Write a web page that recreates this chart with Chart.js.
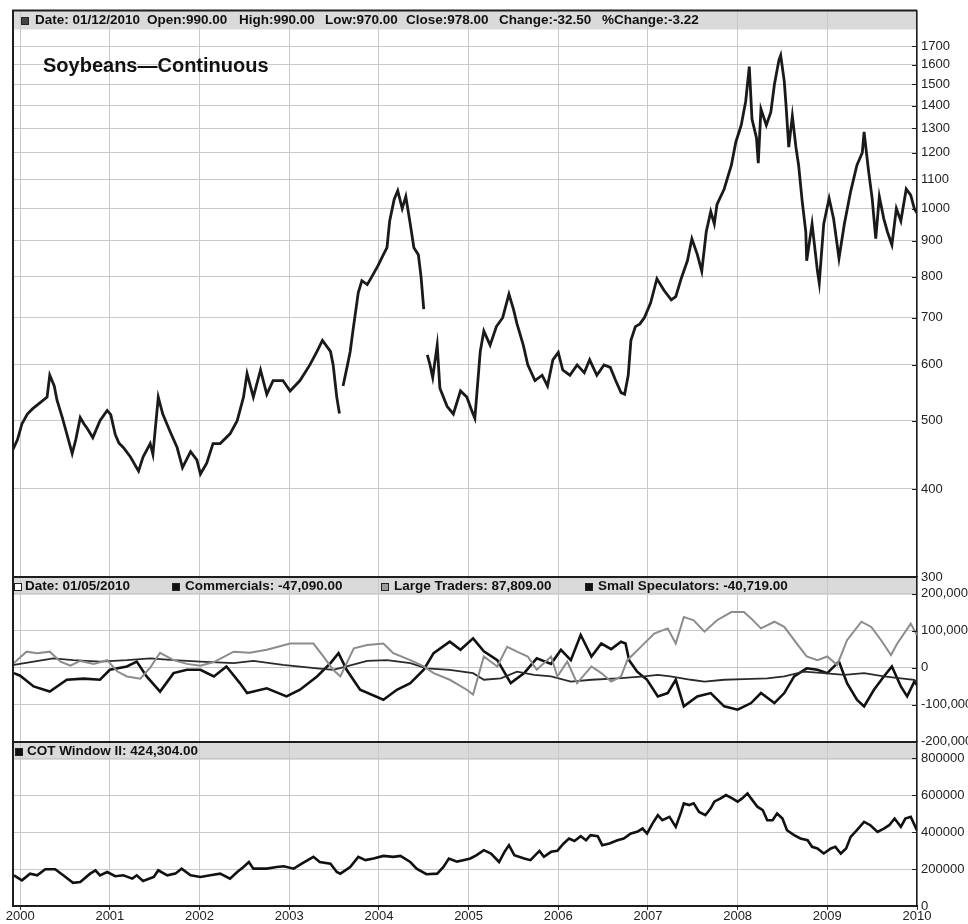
<!DOCTYPE html>
<html>
<head>
<meta charset="utf-8">
<title>Soybeans - Continuous</title>
<script src="https://cdn.jsdelivr.net/npm/chart.js@4.4.1/dist/chart.umd.min.js"></script>
<style>
    body { margin: 0; background: #fff; font-family: Arial, "Liberation Sans", sans-serif; }
    #wrap { position: relative; width: 968px; height: 924px; overflow: hidden; }
    #wrap canvas { position: absolute; left: 0; }
</style>
</head>
<body>
<div id="wrap">
    <canvas id="priceChart" width="968" height="595" style="top:0px"></canvas>
    <canvas id="cotChart" width="968" height="187" style="top:565px"></canvas>
    <canvas id="windowChart" width="968" height="194" style="top:730px"></canvas>
</div>
<script>
// ---- data ----
const years = [2000, 2001, 2002, 2003, 2004, 2005, 2006, 2007, 2008, 2009, 2010];
const priceTicks = [300, 400, 500, 600, 700, 800, 900, 1000, 1100, 1200, 1300, 1400, 1500, 1600, 1700];
const cotTicks = [-200000, -100000, 0, 100000, 200000];
const windowTicks = [0, 200000, 400000, 600000, 800000];

const priceDates = [
    1999.92, 1999.97, 2000.02, 2000.08, 2000.14, 2000.22, 2000.30, 2000.33, 2000.38, 2000.41,
    2000.47, 2000.52, 2000.58, 2000.62, 2000.67, 2000.71, 2000.75, 2000.81, 2000.89, 2000.97,
    2001.01, 2001.06, 2001.10, 2001.15, 2001.23, 2001.32, 2001.37, 2001.45, 2001.48, 2001.54,
    2001.59, 2001.67, 2001.75, 2001.81, 2001.90, 2001.97, 2002.01, 2002.08, 2002.15, 2002.23,
    2002.34, 2002.42, 2002.49, 2002.53, 2002.60, 2002.68, 2002.75, 2002.82, 2002.93, 2003.01,
    2003.12, 2003.23, 2003.31, 2003.37, 2003.46, 2003.49, 2003.53, 2003.56, 2003.58, 2003.60,
    2003.65, 2003.68, 2003.71, 2003.77, 2003.81, 2003.87, 2003.92, 2003.99, 2004.05, 2004.09,
    2004.12, 2004.17, 2004.21, 2004.26, 2004.30, 2004.35, 2004.39, 2004.44, 2004.47, 2004.50,
    2004.52, 2004.54, 2004.57, 2004.60, 2004.65, 2004.68, 2004.76, 2004.83, 2004.91, 2004.98,
    2005.04, 2005.07, 2005.13, 2005.17, 2005.24, 2005.31, 2005.38, 2005.45, 2005.50, 2005.54,
    2005.61, 2005.66, 2005.74, 2005.82, 2005.88, 2005.94, 2006.00, 2006.05, 2006.13, 2006.21,
    2006.29, 2006.35, 2006.43, 2006.51, 2006.58, 2006.64, 2006.70, 2006.74, 2006.78, 2006.81,
    2006.86, 2006.91, 2006.96, 2007.03, 2007.10, 2007.18, 2007.26, 2007.31, 2007.37, 2007.44,
    2007.49, 2007.55, 2007.60, 2007.65, 2007.70, 2007.74, 2007.77, 2007.85, 2007.93, 2007.98,
    2008.04, 2008.09, 2008.13, 2008.16, 2008.21, 2008.23, 2008.26, 2008.32, 2008.37, 2008.41,
    2008.46, 2008.48, 2008.52, 2008.54, 2008.57, 2008.61, 2008.65, 2008.68, 2008.72, 2008.76,
    2008.77, 2008.83, 2008.89, 2008.91, 2008.96, 2009.02, 2009.07, 2009.13, 2009.19, 2009.26,
    2009.33, 2009.39, 2009.41, 2009.46, 2009.50, 2009.54, 2009.58, 2009.63, 2009.67, 2009.72,
    2009.77, 2009.82, 2009.88, 2009.93, 2009.97, 2010.00
];
const priceValues = [
    455, 470, 495, 511, 520, 530, 540, 580, 560, 535,
    505, 479, 449, 470, 505, 495, 487, 473, 500, 517,
    510, 478, 465, 458, 444, 424, 444, 464, 448, 540,
    511, 483, 458, 429, 452, 440, 420, 435, 464, 464,
    479, 500, 540, 583, 540, 590, 545, 570, 570, 551,
    570, 600, 627, 650, 627, 600, 540, 512, null, 560,
    600, 627, 670, 760, 790, 780, 800, 830, 860, 880,
    960, 1030, 1060, 1000, 1040, 950, 880, 860, 800, 720,
    null, 620, 600, 576, 640, 556, 524, 511, 551, 540,
    515, 504, 627, 670, 640, 680, 700, 756, 720, 686,
    640, 600, 570, 580, 560, 610, 625, 590, 580, 600,
    585, 610, 580, 600, 595, 570, 548, 545, 580, 650,
    680, 686, 700, 735, 795, 765, 742, 750, 795, 843,
    906, 861, 815, 927, 990, 951, 1014, 1066, 1152, 1243,
    1313, 1420, 1590, 1340, 1260, 1160, 1384, 1313, 1370, 1500,
    1623, 1650, 1515, 1400, 1222, 1353, 1222, 1152, 1024, 927,
    843, 951, 815, 784, 951, 1034, 967, 850, 951, 1057,
    1152, 1200, 1285, 1130, 1034, 906, 1040, 967, 927, 888,
    1000, 960, 1066, 1045, 1000, 985
];

const largeDates = [
    1999.93, 2000.07, 2000.19, 2000.33, 2000.45, 2000.56, 2000.67, 2000.82, 2000.97, 2001.08,
    2001.19, 2001.34, 2001.45, 2001.56, 2001.71, 2001.86, 2002.01, 2002.16, 2002.38, 2002.56,
    2002.75, 2003.01, 2003.27, 2003.38, 2003.49, 2003.57, 2003.72, 2003.87, 2004.05, 2004.16,
    2004.35, 2004.50, 2004.61, 2004.79, 2004.98, 2005.05, 2005.17, 2005.32, 2005.43, 2005.54,
    2005.66, 2005.76, 2005.92, 2005.99, 2006.10, 2006.21, 2006.37, 2006.48, 2006.59, 2006.70,
    2006.77, 2006.92, 2007.07, 2007.22, 2007.31, 2007.40, 2007.51, 2007.63, 2007.77, 2007.93,
    2008.07, 2008.15, 2008.26, 2008.41, 2008.52, 2008.66, 2008.77, 2008.89, 2009.00, 2009.11,
    2009.22, 2009.38, 2009.49, 2009.60, 2009.71, 2009.78, 2009.93, 2010.00
];
const largeValues = [
    12000, 43000, 39000, 43000, 16000, 5000, 18000, 10000, 20000, -10000,
    -24000, -30000, 0, 40000, 20000, 10000, 5000, 15000, 43000, 40000,
    48000, 65000, 65000, 30000, -6000, -24000, 52000, 61000, 65000, 39000,
    20000, 3000, -15000, -33000, -60000, -73000, 30000, 3000, 56000, 43000,
    30000, -6000, 30000, -24000, 16000, -42000, 3000, -15000, -38000, -24000,
    20000, 56000, 92000, 106000, 65000, 137000, 128000, 97000, 128000, 150000,
    150000, 133000, 106000, 124000, 110000, 65000, 30000, 20000, 30000, 7000,
    74000, 124000, 110000, 74000, 34000, 65000, 119000, 87809
];

const commDates = [
    1999.93, 2000.00, 2000.15, 2000.33, 2000.52, 2000.71, 2000.89, 2001.00, 2001.19, 2001.30,
    2001.41, 2001.56, 2001.71, 2001.86, 2002.01, 2002.16, 2002.30, 2002.45, 2002.53, 2002.75,
    2002.97, 2003.12, 2003.31, 2003.46, 2003.55, 2003.64, 2003.79, 2004.05, 2004.20, 2004.35,
    2004.50, 2004.61, 2004.79, 2004.91, 2005.05, 2005.17, 2005.32, 2005.47, 2005.62, 2005.76,
    2005.92, 2006.03, 2006.14, 2006.25, 2006.37, 2006.48, 2006.59, 2006.70, 2006.75, 2006.79,
    2006.88, 2006.99, 2007.11, 2007.22, 2007.31, 2007.40, 2007.55, 2007.70, 2007.85, 2008.00,
    2008.15, 2008.26, 2008.41, 2008.52, 2008.63, 2008.77, 2008.89, 2009.00, 2009.13, 2009.22,
    2009.33, 2009.41, 2009.52, 2009.63, 2009.72, 2009.82, 2009.89, 2009.97, 2010.00
];
const commValues = [
    -15000, -22000, -51000, -65000, -33000, -30000, -33000, -6000, 3000, 16000,
    -24000, -65000, -15000, -6000, -6000, -24000, 3000, -42000, -69000, -56000,
    -78000, -60000, -24000, 12000, 39000, -6000, -60000, -87000, -60000, -42000,
    -6000, 39000, 70000, 48000, 79000, 44000, 20000, -42000, -15000, 25000,
    10000, 48000, 20000, 88000, 30000, 65000, 50000, 70000, 65000, 20000,
    -11000, -33000, -78000, -69000, -33000, -105000, -78000, -69000, -105000, -114000,
    -96000, -69000, -96000, -69000, -24000, -2000, -6000, -15000, 16000, -42000,
    -87000, -105000, -60000, -24000, 3000, -51000, -78000, -38000, -47090
];

const smallDates = [
    1999.93, 2000.15, 2000.37, 2000.59, 2000.89, 2001.19, 2001.45, 2001.71, 2002.01, 2002.38,
    2002.60, 2002.93, 2003.31, 2003.49, 2003.64, 2003.87, 2004.09, 2004.35, 2004.53, 2004.79,
    2005.05, 2005.17, 2005.36, 2005.54, 2005.73, 2005.92, 2006.14, 2006.37, 2006.66, 2006.96,
    2007.11, 2007.25, 2007.48, 2007.63, 2007.85, 2008.07, 2008.33, 2008.52, 2008.74, 2008.96,
    2009.19, 2009.41, 2009.63, 2009.82, 2009.97, 2010.00
];
const smallValues = [
    7000, 16000, 25000, 20000, 16000, 20000, 25000, 20000, 16000, 12000,
    18000, 7000, -2000, -6000, 3000, 18000, 20000, 12000, -2000, -6000,
    -15000, -33000, -29000, -11000, -20000, -24000, -38000, -33000, -29000, -24000,
    -20000, -24000, -33000, -38000, -33000, -31000, -29000, -24000, -11000, -15000,
    -20000, -15000, -24000, -29000, -33000, -40719
];

const windowDates = [
    1999.93, 2000.02, 2000.11, 2000.19, 2000.28, 2000.39, 2000.48, 2000.59, 2000.67, 2000.78,
    2000.84, 2000.89, 2000.97, 2001.06, 2001.15, 2001.25, 2001.30, 2001.37, 2001.49, 2001.54,
    2001.64, 2001.73, 2001.80, 2001.90, 2002.01, 2002.12, 2002.23, 2002.34, 2002.42, 2002.49,
    2002.55, 2002.60, 2002.75, 2002.86, 2002.94, 2003.05, 2003.14, 2003.27, 2003.34, 2003.46,
    2003.53, 2003.57, 2003.68, 2003.77, 2003.85, 2003.94, 2004.05, 2004.16, 2004.24, 2004.35,
    2004.42, 2004.53, 2004.65, 2004.72, 2004.78, 2004.87, 2004.94, 2005.02, 2005.09, 2005.17,
    2005.25, 2005.34, 2005.40, 2005.45, 2005.51, 2005.62, 2005.69, 2005.79, 2005.84, 2005.92,
    2005.99, 2006.06, 2006.12, 2006.18, 2006.25, 2006.31, 2006.36, 2006.44, 2006.49, 2006.57,
    2006.66, 2006.73, 2006.81, 2006.88, 2006.94, 2006.99, 2007.05, 2007.11, 2007.16, 2007.24,
    2007.31, 2007.37, 2007.40, 2007.46, 2007.51, 2007.57, 2007.64, 2007.70, 2007.74, 2007.81,
    2007.87, 2007.94, 2008.00, 2008.05, 2008.11, 2008.15, 2008.22, 2008.28, 2008.33, 2008.39,
    2008.44, 2008.50, 2008.55, 2008.63, 2008.70, 2008.78, 2008.83, 2008.89, 2008.96, 2009.04,
    2009.09, 2009.15, 2009.21, 2009.26, 2009.33, 2009.41, 2009.48, 2009.56, 2009.63, 2009.69,
    2009.75, 2009.82, 2009.87, 2009.93, 2009.99, 2010.00
];
const windowValues = [
    166000, 139000, 175000, 166000, 199000, 199000, 166000, 125000, 130000, 175000,
    193000, 166000, 184000, 161000, 166000, 148000, 166000, 135000, 157000, 193000,
    166000, 175000, 202000, 166000, 157000, 166000, 175000, 148000, 184000, 211000,
    238000, 202000, 202000, 211000, 215000, 202000, 229000, 266000, 238000, 229000,
    184000, 175000, 211000, 266000, 248000, 257000, 271000, 266000, 271000, 238000,
    202000, 172000, 175000, 211000, 257000, 240000, 248000, 257000, 275000, 302000,
    284000, 238000, 293000, 329000, 275000, 257000, 248000, 298000, 266000, 293000,
    298000, 338000, 365000, 352000, 378000, 356000, 383000, 378000, 329000, 338000,
    356000, 365000, 392000, 401000, 419000, 392000, 446000, 491000, 464000, 482000,
    428000, 509000, 555000, 546000, 555000, 509000, 491000, 528000, 564000, 582000,
    600000, 582000, 564000, 582000, 609000, 582000, 537000, 519000, 464000, 464000,
    500000, 473000, 410000, 383000, 365000, 356000, 320000, 311000, 284000, 311000,
    320000, 284000, 311000, 374000, 410000, 455000, 437000, 401000, 419000, 437000,
    473000, 428000, 473000, 482000, 419000, 424304
];

// header texts and their x positions
const priceHeader = [
    { text: 'Date: 01/12/2010', x: 35, marker: 'dark', mx: 21 },
    { text: 'Open:990.00', x: 147 },
    { text: 'High:990.00', x: 239 },
    { text: 'Low:970.00', x: 325 },
    { text: 'Close:978.00', x: 406 },
    { text: 'Change:-32.50', x: 499 },
    { text: '%Change:-3.22', x: 602 }
];
const cotHeader = [
    { text: 'Date: 01/05/2010', x: 25, marker: 'open', mx: 14 },
    { text: 'Commercials: -47,090.00', x: 185, marker: 'black', mx: 172 },
    { text: 'Large Traders: 87,809.00', x: 394, marker: 'gray', mx: 381 },
    { text: 'Small Speculators: -40,719.00', x: 598, marker: 'black', mx: 585 }
];
const windowHeader = [
    { text: 'COT Window II: 424,304.00', x: 27, marker: 'black', mx: 15 }
];

const X_MIN = 1999.92;
const X_MAX = 2010.0;
const GRID = '#c9c9c9';
const INK = '#1e1e1e';
const FONT = 'Arial, "Liberation Sans", sans-serif';

function toPoints(dates, values) {
    return dates.map((d, i) => ({ x: d, y: values[i] }));
}

const panelDecor = {
    id: 'panelDecor',
    beforeDraw(chart, args, opts) {
        const { ctx, chartArea: a } = chart;
        ctx.save();
        ctx.fillStyle = '#dadada';
        ctx.fillRect(a.left, a.top, a.right - a.left, opts.band);
        ctx.restore();
    },
    afterDraw(chart, args, opts) {
        const { ctx, chartArea: a } = chart;
        ctx.save();
        // left and top frame
        ctx.strokeStyle = INK;
        ctx.lineWidth = 2;
        ctx.beginPath();
        ctx.moveTo(a.left, a.bottom);
        ctx.lineTo(a.left, a.top);
        ctx.lineTo(a.right, a.top);
        ctx.stroke();

        // short ticks pointing into the plot on the right axis
        const ys = chart.scales.y;
        ctx.lineWidth = 1;
        ctx.beginPath();
        ys.ticks.forEach(t => {
            const py = Math.round(ys.getPixelForValue(t.value)) + 0.5;
            ctx.moveTo(a.right - 5, py);
            ctx.lineTo(a.right, py);
        });
        ctx.stroke();

        // header row
        const cy = a.top + opts.band / 2 + 0.5;
        ctx.font = 'bold 13.5px ' + FONT;
        ctx.textBaseline = 'middle';
        ctx.fillStyle = '#111';
        opts.items.forEach(it => {
            if (it.marker) {
                const s = 8;
                const top = Math.round(cy - s / 2);
                if (it.marker === 'open') {
                    ctx.fillStyle = '#fff';
                } else if (it.marker === 'gray') {
                    ctx.fillStyle = '#9a9a9a';
                } else if (it.marker === 'dark') {
                    ctx.fillStyle = '#444';
                } else {
                    ctx.fillStyle = '#111';
                }
                ctx.fillRect(it.mx, top, s, s);
                ctx.strokeStyle = '#222';
                ctx.lineWidth = 1;
                ctx.strokeRect(it.mx + 0.5, top + 0.5, s - 1, s - 1);
                ctx.fillStyle = '#111';
            }
            ctx.fillText(it.text, it.x, cy);
        });

        if (opts.title) {
            ctx.font = 'bold 20px ' + FONT;
            ctx.fillStyle = '#111';
            ctx.fillText(opts.title, a.left + 30, a.top + 56);
        }
        ctx.restore();
    }
};

function makePanel(canvasId, cfg) {
    const ctx = document.getElementById(canvasId).getContext('2d');
    return new Chart(ctx, {
        type: 'line',
        data: { datasets: cfg.datasets },
        plugins: [panelDecor],
        options: {
            responsive: false,
            animation: false,
            events: [],
            layout: { padding: { top: cfg.padTop, left: 13, right: 0, bottom: 0 } },
            elements: { point: { radius: 0 }, line: { tension: 0, borderJoinStyle: 'miter' } },
            scales: {
                x: {
                    type: 'linear',
                    min: X_MIN,
                    max: X_MAX,
                    afterBuildTicks: s => { s.ticks = years.map(v => ({ value: v })); },
                    afterFit: s => { s.height = cfg.xHeight; },
                    grid: {
                        color: GRID,
                        lineWidth: 1,
                        drawTicks: cfg.xLabels,
                        tickLength: 4,
                        tickColor: '#333'
                    },
                    border: { display: true, color: INK, width: 2 },
                    ticks: {
                        display: cfg.xLabels,
                        autoSkip: false,
                        maxRotation: 0,
                        padding: 0,
                        color: '#222',
                        font: { family: FONT, size: 13, lineHeight: 1 },
                        callback: v => String(v)
                    }
                },
                y: {
                    type: cfg.yType,
                    position: 'right',
                    min: cfg.yMin,
                    max: cfg.yMax,
                    afterBuildTicks: s => { s.ticks = cfg.yTicks.map(v => ({ value: v })); },
                    afterFit: s => { s.width = 51; },
                    grid: { color: GRID, lineWidth: 1, drawTicks: false },
                    border: { display: true, color: INK, width: 1.5 },
                    ticks: {
                        autoSkip: false,
                        padding: 4,
                        color: '#222',
                        font: { family: FONT, size: 13, lineHeight: 1 },
                        callback: cfg.yFormat
                    }
                }
            },
            plugins: {
                legend: { display: false },
                tooltip: { enabled: false },
                panelDecor: { band: cfg.band, items: cfg.header, title: cfg.title || null }
            }
        }
    });
}

document.addEventListener('DOMContentLoaded', () => {
    makePanel('priceChart', {
        padTop: 8,
        xHeight: 18,
        xLabels: false,
        yType: 'logarithmic',
        yMin: 300,
        yMax: 1910,
        yTicks: priceTicks,
        yFormat: v => String(v),
        band: 19,
        header: priceHeader,
        title: 'Soybeans\u2014Continuous',
        datasets: [{
            label: 'Soybeans',
            data: toPoints(priceDates, priceValues),
            borderColor: '#1a1a1a',
            borderWidth: 2.8,
            spanGaps: false
        }]
    });

    makePanel('cotChart', {
        padTop: 12,
        xHeight: 10,
        xLabels: false,
        yType: 'linear',
        yMin: -200000,
        yMax: 245000,
        yTicks: cotTicks,
        yFormat: v => v.toLocaleString('en-US'),
        band: 18,
        header: cotHeader,
        datasets: [
            { label: 'Large Traders', data: toPoints(largeDates, largeValues), borderColor: '#8c8c8c', borderWidth: 2 },
            { label: 'Small Speculators', data: toPoints(smallDates, smallValues), borderColor: '#2a2a2a', borderWidth: 1.8 },
            { label: 'Commercials', data: toPoints(commDates, commValues), borderColor: '#111', borderWidth: 2.6 }
        ]
    });

    makePanel('windowChart', {
        padTop: 12,
        xHeight: 18,
        xLabels: true,
        yType: 'linear',
        yMin: 0,
        yMax: 887000,
        yTicks: windowTicks,
        yFormat: v => String(v),
        band: 18,
        header: windowHeader,
        datasets: [
            { label: 'COT Window II', data: toPoints(windowDates, windowValues), borderColor: '#111', borderWidth: 2.6 }
        ]
    });
});
</script>
</body>
</html>
